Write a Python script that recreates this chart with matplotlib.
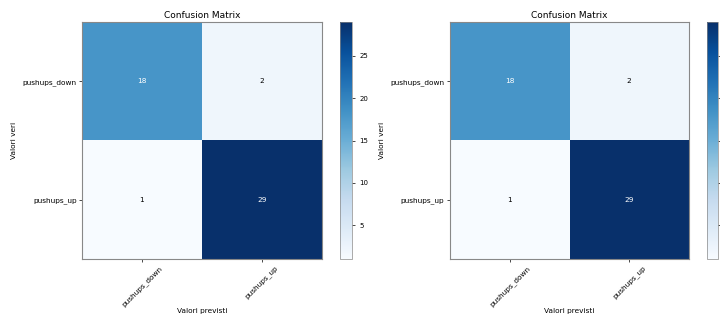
import numpy as np
import matplotlib
matplotlib.use("Agg")
import matplotlib.pyplot as plt

# classi e matrice di confusione
classes = ["pushups_down", "pushups_up"]
cm_values = [[18, 2],
             [1, 29]]
cbar_ticks = [5, 10, 15, 20, 25]

cm = np.array(cm_values)
fig = plt.figure(figsize=(7.2, 3.21), dpi=100)

def draw_cm(ax, cax, show_cbar_labels=True):
    im = ax.imshow(cm, interpolation="nearest", cmap=plt.cm.Blues, aspect="auto")
    ax.set_title("Confusion Matrix", fontsize=6.5, pad=3)
    cb = fig.colorbar(im, cax=cax, ticks=cbar_ticks)
    cb.ax.tick_params(labelsize=5, length=2, width=0.5,
                      labelright=show_cbar_labels)
    cb.outline.set_linewidth(0.5)
    cb.outline.set_edgecolor("#888888")
    tick_marks = np.arange(len(classes))
    ax.set_xticks(tick_marks)
    ax.set_xticklabels(classes, rotation=45, fontsize=5.3)
    ax.set_yticks(tick_marks)
    ax.set_yticklabels(classes, fontsize=5.3)
    ax.tick_params(length=2, width=0.5, pad=2)
    thresh = cm.max() / 2.0
    for i in range(cm.shape[0]):
        for j in range(cm.shape[1]):
            ax.text(j, i, format(cm[i, j], "d"), ha="center", va="center",
                    fontsize=5.3,
                    color="white" if cm[i, j] > thresh else "black")
    for s in ax.spines.values():
        s.set_linewidth(0.8)
        s.set_edgecolor("#888888")
    ax.set_ylabel("Valori veri", fontsize=5.3, labelpad=4)
    ax.set_xlabel("Valori previsti", fontsize=5.3, labelpad=0.5)

# pannello sinistro
ax1 = fig.add_axes([0.114, 0.193, 0.333, 0.738])
cax1 = fig.add_axes([0.472, 0.193, 0.0167, 0.738])
draw_cm(ax1, cax1)

# pannello destro (colorbar al bordo, senza etichette)
ax2 = fig.add_axes([0.625, 0.193, 0.332, 0.738])
cax2 = fig.add_axes([0.982, 0.193, 0.0153, 0.738])
draw_cm(ax2, cax2, show_cbar_labels=False)

fig.savefig("out.png", dpi=100)
